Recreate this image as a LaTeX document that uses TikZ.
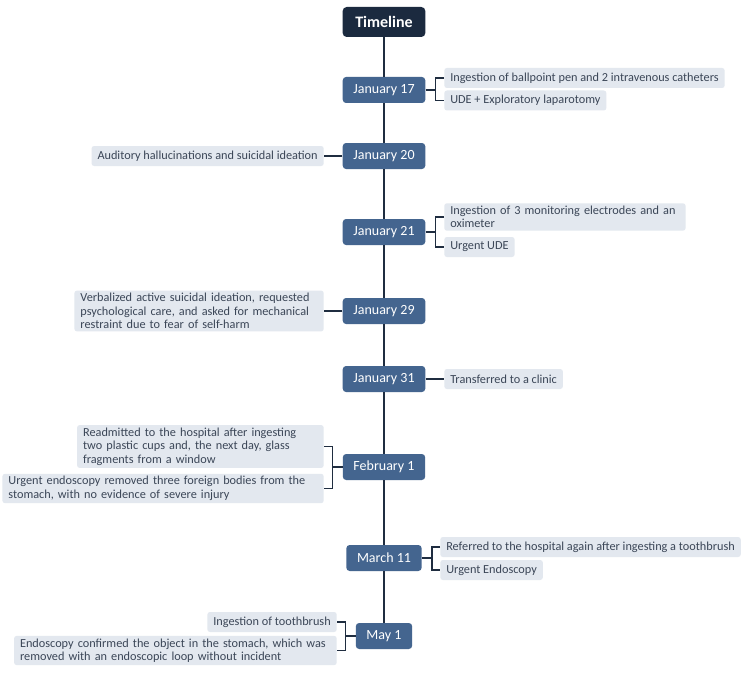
\documentclass[tikz,border=0pt]{standalone}
\usepackage{fontspec}
\setmainfont{Carlito}
\usetikzlibrary{calc}
\definecolor{navy}{HTML}{1B2A3F}
\definecolor{datefill}{HTML}{44658F}
\definecolor{itemfill}{HTML}{E3E8EF}
\definecolor{itemtext}{HTML}{3B4657}
\definecolor{linecol}{HTML}{1F2D40}
\tikzset{
  titlebox/.style={fill=navy, text=white, rounded corners=3pt, minimum width=62pt, minimum height=22.5pt, font=\fontsize{12}{14}\selectfont\bfseries, inner sep=0pt},
  datebox/.style={fill=datefill, text=white, rounded corners=2.5pt, minimum height=19.5pt, inner xsep=8pt, inner ysep=0pt, font=\fontsize{10.5}{12}\selectfont},
  itembox/.style={fill=itemfill, text=itemtext, rounded corners=2pt, minimum height=15pt, inner xsep=4.5pt, inner ysep=2pt, font=\fontsize{9.2}{10.1}\selectfont, align=left},
  conn/.style={draw=linecol, line width=1.2pt},
  spine/.style={draw=linecol, line width=1.6pt}
}
\begin{document}
\begin{tikzpicture}[x=0.75pt,y=-0.75pt]
\useasboundingbox[fill=white] (0,0) rectangle (750,674);
% dates
\node[titlebox] (tl) at (384,22) {Timeline};
\node[datebox] (d1) at (384,90) {January 17};
\node[datebox] (d2) at (384,156) {January 20};
\node[datebox] (d3) at (384,232) {January 21};
\node[datebox] (d4) at (384,311) {January 29};
\node[datebox] (d5) at (384,379) {January 31};
\node[datebox] (d6) at (384,467) {February 1};
\node[datebox] (d7) at (384,558) {March 11};
\node[datebox] (d8) at (384,636) {May 1};
% spine
\draw[spine] (tl.south) -- (d1.north);
\draw[spine] (d1.south) -- (d2.north);
\draw[spine] (d2.south) -- (d3.north);
\draw[spine] (d3.south) -- (d4.north);
\draw[spine] (d4.south) -- (d5.north);
\draw[spine] (d5.south) -- (d6.north);
\draw[spine] (d6.south) -- (d7.north);
\draw[spine] (d7.south) -- (d8.north);
% items
\node[itembox, anchor=west] (i1a) at (444,78) {Ingestion of ballpoint pen and 2 intravenous catheters};
\node[itembox, anchor=west] (i1b) at (444,100.5) {UDE + Exploratory laparotomy};
\node[itembox, anchor=east] (i2) at (324,156) {Auditory hallucinations and suicidal ideation};
\node[itembox, anchor=west, text width=172pt] (i3a) at (444,217) {Ingestion of 3 monitoring electrodes and an\\oximeter};
\node[itembox, anchor=west] (i3b) at (444,247) {Urgent UDE};
\node[itembox, anchor=east, text width=178pt] (i4) at (324,311) {Verbalized active suicidal ideation, requested\\psychological care, and asked for mechanical\\restraint due to fear of self-harm};
\node[itembox, anchor=west] (i5) at (444,379) {Transferred to a clinic};
\node[itembox, anchor=east, text width=176pt] (i6a) at (324,446.5) {Readmitted to the hospital after ingesting\\two plastic cups and, the next day, glass\\fragments from a window};
\node[itembox, anchor=east, text width=232pt] (i6b) at (324,488.5) {Urgent endoscopy removed three foreign bodies from the\\stomach, with no evidence of severe injury};
\node[itembox, anchor=west] (i7a) at (440,547) {Referred to the hospital again after ingesting a toothbrush};
\node[itembox, anchor=west] (i7b) at (440,570) {Urgent Endoscopy};
\node[itembox, anchor=east] (i8a) at (337,622) {Ingestion of toothbrush};
\node[itembox, anchor=east, text width=233pt] (i8b) at (337,650.5) {Endoscopy confirmed the object in the stomach, which was\\removed with an endoscopic loop without incident};
% connectors
\coordinate (b1) at ($(d1.east)+(10,0)$);
\draw[conn] (d1.east) -- (b1);
\draw[conn] (i1a.west) -| (b1) |- (i1b.west);
\draw[conn] (d2.west) -- (i2.east);
\coordinate (b3) at ($(d3.east)+(10,0)$);
\draw[conn] (d3.east) -- (b3);
\draw[conn] (i3a.west) -| (b3) |- (i3b.west);
\draw[conn] (d4.west) -- (i4.east);
\draw[conn] (d5.east) -- (i5.west);
\coordinate (b6) at ($(d6.west)+(-10,0)$);
\draw[conn] (d6.west) -- (b6);
\draw[conn] (i6a.east) -| (b6) |- (i6b.east);
\coordinate (b7) at ($(d7.east)+(10,0)$);
\draw[conn] (d7.east) -- (b7);
\draw[conn] (i7a.west) -| (b7) |- (i7b.west);
\coordinate (b8) at ($(d8.west)+(-10,0)$);
\draw[conn] (d8.west) -- (b8);
\draw[conn] (i8a.east) -| (b8) |- (i8b.east);
\end{tikzpicture}
\end{document}
